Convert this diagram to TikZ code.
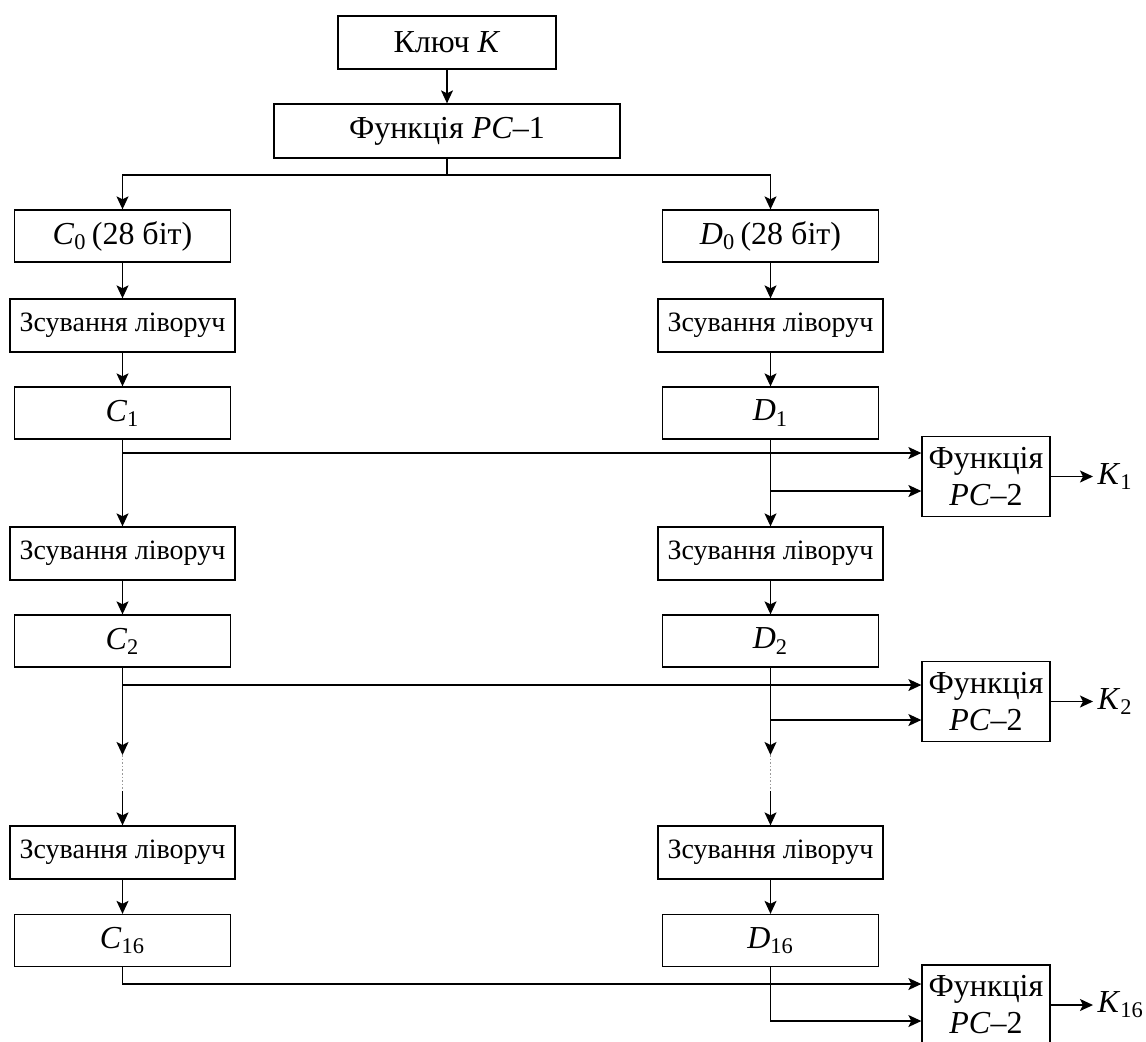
\documentclass[tikz,border=0pt]{standalone}
\usepackage{fontspec}
\setmainfont{Liberation Serif}
\usetikzlibrary{arrows.meta}

\newcommand{\reg}[2]{\textit{#1}\textsubscript{#2}}

\begin{document}
\begin{tikzpicture}[x=0.5pt,y=-0.5pt,
  box/.style={draw,line width=0.65pt,inner sep=1pt,align=center,font=\fontsize{16}{18.5}\selectfont},
  regbox/.style={box,minimum width=108pt,minimum height=26pt},
  shiftbox/.style={box,minimum width=112.5pt,minimum height=26.5pt,font=\fontsize{14}{16}\selectfont},
  pcbox/.style={box,minimum width=64pt,minimum height=40pt},
  arr/.style={line width=0.65pt,-{Stealth[length=6.5pt,width=6pt,inset=1.5pt]}},
  conn/.style={line width=0.65pt},
  gap/.style={densely dotted,gray!80,line width=0.8pt}]
\useasboundingbox (0,0) rectangle (1146,1041);

% key and PC-1
\node[box,minimum width=109pt,minimum height=26.5pt] (key) at (447,42.5) {Ключ \textit{K}};
\node[box,minimum width=173pt,minimum height=27pt] (pc1) at (447,131) {Функція \textit{PC}–1};
\coordinate (split) at (447,175);

% registers and shifts
\node[regbox] (c0) at (122.5,236) {\reg{C}{0}\,(28 біт)};
\node[regbox] (d0) at (770.5,236) {\reg{D}{0}\,(28 біт)};
\node[shiftbox] (shl1) at (122.5,325.5) {Зсування ліворуч};
\node[shiftbox] (shr1) at (770.5,325.5) {Зсування ліворуч};
\node[regbox] (c1) at (122.5,413) {\reg{C}{1}};
\node[regbox] (d1) at (770.5,413) {\reg{D}{1}};
\node[shiftbox] (shl2) at (122.5,553.5) {Зсування ліворуч};
\node[shiftbox] (shr2) at (770.5,553.5) {Зсування ліворуч};
\node[regbox] (c2) at (122.5,641) {\reg{C}{2}};
\node[regbox] (d2) at (770.5,641) {\reg{D}{2}};
\node[shiftbox] (shl3) at (122.5,852.5) {Зсування ліворуч};
\node[shiftbox] (shr3) at (770.5,852.5) {Зсування ліворуч};
\node[regbox] (c16) at (122.5,940.5) {\reg{C}{16}};
\node[regbox] (d16) at (770.5,940.5) {\reg{D}{16}};

% PC-2 blocks
\node[pcbox] (pcb1) at (986,476.5) {Функція\\\textit{PC}–2};
\node[pcbox] (pcb2) at (986,701.5) {Функція\\\textit{PC}–2};
\node[pcbox] (pcb3) at (986,1005) {Функція\\\textit{PC}–2};
\node[box,draw=none,anchor=west,inner sep=2pt] (k1) at (1093,476.5) {\reg{K}{1}};
\node[box,draw=none,anchor=west,inner sep=2pt] (k2) at (1093,701.5) {\reg{K}{2}};
\node[box,draw=none,anchor=west,inner sep=2pt] (k16) at (1093,1005) {\reg{K}{16}};

% branch points
\coordinate (bl1) at (122.5,453);
\coordinate (br1) at (770.5,491);
\coordinate (bl2) at (122.5,685);
\coordinate (br2) at (770.5,720);
\coordinate (bl3) at (122.5,984);
\coordinate (br3) at (770.5,1021);
\coordinate (gl1) at (122.5,755);
\coordinate (gl2) at (122.5,791);
\coordinate (gr1) at (770.5,755);
\coordinate (gr2) at (770.5,791);

\draw[arr] (key) -- (pc1);
\draw[conn] (pc1) -- (split);
\draw[arr] (split) -| (c0.north);
\draw[arr] (split) -| (d0.north);

\draw[arr] (c0) -- (shl1);
\draw[arr] (d0) -- (shr1);
\draw[arr] (shl1) -- (c1);
\draw[arr] (shr1) -- (d1);
\draw[arr] (c1) -- (shl2);
\draw[arr] (d1) -- (shr2);
\draw[arr] (shl2) -- (c2);
\draw[arr] (shr2) -- (d2);

\draw[arr] (c2) -- (gl1);
\draw[arr] (d2) -- (gr1);
\draw[gap] (gl1) -- (gl2);
\draw[gap] (gr1) -- (gr2);
\draw[arr] (gl2) -- (shl3);
\draw[arr] (gr2) -- (shr3);
\draw[arr] (shl3) -- (c16);
\draw[arr] (shr3) -- (d16);

\draw[arr] (bl1) -- (pcb1.west |- bl1);
\draw[arr] (br1) -- (pcb1.west |- br1);
\draw[arr] (bl2) -- (pcb2.west |- bl2);
\draw[arr] (br2) -- (pcb2.west |- br2);
\draw[arr] (c16) |- (pcb3.west |- bl3);
\draw[arr] (d16) |- (pcb3.west |- br3);

\draw[arr] (pcb1) -- (k1);
\draw[arr] (pcb2) -- (k2);
\draw[arr] (pcb3) -- (k16);
\end{tikzpicture}
\end{document}
